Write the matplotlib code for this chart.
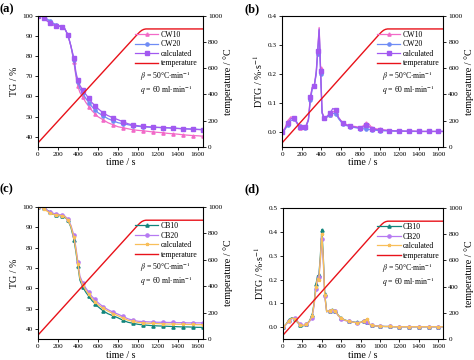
import matplotlib
matplotlib.use("Agg")
import matplotlib.pyplot as plt

plt.rcParams['font.family'] = ['Liberation Serif', 'DejaVu Serif']
plt.rcParams['mathtext.fontset'] = 'stix'

# temperature programme
temp_t = [0, 1000, 1020, 1040, 1060, 1080, 1650]
temp_T = [30, 863, 878, 890, 897, 900, 900]

# TG curves (a)
tg_t = [0, 30, 60, 90, 120, 150, 180, 210, 240, 270, 300, 330, 360, 380, 400,
        420, 450, 480, 510, 540, 570, 600, 650, 700, 750, 800, 850, 900, 950,
        1000, 1050, 1100, 1150, 1200, 1250, 1300, 1350, 1400, 1450, 1500, 1550,
        1600, 1650]
cw10_tg = [100, 100, 99.5, 98, 97, 96, 95.5, 95, 94.5, 93.5, 90.5, 85, 77, 70, 65,
           62, 59.5, 57, 55, 53, 51.5, 50, 48.5, 47, 46, 45, 44.5, 44, 43.5,
           43.2, 43, 42.7, 42.4, 42.2, 42, 41.7, 41.5, 41.3, 41, 40.8, 40.6,
           40.5, 40.3]
cw20_tg = [100, 100, 99.5, 98.5, 97.5, 96.5, 95.5, 95, 94.5, 93.5, 90.5, 85, 78, 71, 67,
           64, 61.5, 59, 57, 55, 53.5, 52, 50.5, 49, 48, 47, 46.5, 46, 45.5,
           45.2, 45, 44.8, 44.7, 44.6, 44.5, 44.4, 44.3, 44.2, 44, 43.9, 43.8,
           43.7, 43.6]
cwcal_tg = [100, 100, 99, 97.5, 96.5, 95.5, 95, 95, 94.5, 93.5, 90.5, 85, 79, 72, 68,
            65.5, 63, 61, 59, 57, 55.5, 54, 52, 50.5, 49.5, 48.5, 47.5, 46.5, 45.8,
            45.5, 45.2, 45, 44.8, 44.7, 44.6, 44.5, 44.3, 44.1, 44, 43.9, 43.8,
            43.6, 43.5]

# DTG curves (b)
dtg_t = [0, 30, 60, 90, 120, 150, 180, 210, 240, 270, 290, 310, 330, 350, 365,
         380, 395, 410, 430, 460, 490, 520, 550, 580, 620, 660, 700, 750, 800,
         830, 860, 890, 920, 960, 1000, 1050, 1100, 1150, 1200, 1250, 1300,
         1350, 1400, 1450, 1500, 1550, 1600, 1650]
cw10_dtg = [0.0, 0.015, 0.04, 0.053, 0.05, 0.032, 0.016, 0.01, 0.018, 0.045, 0.12,
            0.155, 0.16, 0.2, 0.28, 0.36, 0.22, 0.07, 0.05, 0.053, 0.06, 0.072,
            0.068, 0.05, 0.033, 0.027, 0.022, 0.02, 0.016, 0.022, 0.032, 0.028,
            0.016, 0.012, 0.01, 0.008, 0.006, 0.005, 0.005, 0.004, 0.004, 0.004,
            0.003, 0.003, 0.003, 0.003, 0.003, 0.003]
cw20_dtg = [0.0, 0.01, 0.025, 0.04, 0.046, 0.036, 0.02, 0.012, 0.015, 0.04, 0.11,
            0.15, 0.16, 0.2, 0.27, 0.35, 0.2, 0.065, 0.05, 0.052, 0.058, 0.065,
            0.064, 0.046, 0.03, 0.023, 0.019, 0.016, 0.013, 0.012, 0.012, 0.01,
            0.008, 0.007, 0.006, 0.005, 0.005, 0.004, 0.004, 0.004, 0.003, 0.003,
            0.003, 0.003, 0.003, 0.003, 0.003, 0.003]
cwcal_dtg = [0.0, 0.012, 0.032, 0.047, 0.049, 0.034, 0.018, 0.011, 0.017, 0.043, 0.12,
             0.155, 0.16, 0.21, 0.28, 0.355, 0.21, 0.068, 0.05, 0.055, 0.065, 0.082,
             0.076, 0.05, 0.032, 0.025, 0.021, 0.018, 0.015, 0.018, 0.024, 0.02,
             0.013, 0.01, 0.009, 0.007, 0.006, 0.005, 0.005, 0.004, 0.004, 0.004,
             0.003, 0.003, 0.003, 0.003, 0.003, 0.003]

# TG curves (c)
cb10_tg = [100, 100, 99.5, 98.5, 97.5, 96.5, 96, 95.8, 95.5, 95, 93.5, 90, 84, 78, 71,
           64, 60.5, 58, 56, 54, 52.5, 51, 49, 47.5, 46.5, 45.5, 44.3, 43.3, 42.8,
           42.3, 42, 41.8, 41.6, 41.5, 41.4, 41.3, 41.2, 41.1, 41, 41, 40.9,
           40.8, 40.8]
cb20_tg = [100, 100, 99.5, 98.5, 97.5, 97, 96.5, 96.3, 96, 95.5, 94, 91, 86, 80, 73,
           66, 62.5, 60, 58, 56, 54.5, 53, 51, 49.5, 48.3, 47.3, 46.2, 45, 44.3,
           43.8, 43.6, 43.5, 43.4, 43.3, 43.3, 43.2, 43.2, 43.1, 43.1, 43, 43,
           43, 43]
cbcal_tg = [100, 100, 99, 98, 97, 96.5, 96, 96, 95.7, 95.2, 93.5, 90.5, 85, 79, 72,
            65, 61.5, 59, 57, 55, 53.5, 52, 50.2, 48.8, 47.6, 46.5, 45.4, 44.3, 43.7,
            43.2, 43, 42.8, 42.7, 42.6, 42.5, 42.4, 42.4, 42.3, 42.3, 42.2, 42.2,
            42.1, 42.1]

# DTG curves (d)
dtg2_t = [0, 30, 60, 90, 120, 150, 180, 210, 240, 270, 300, 320, 340, 355, 370,
          385, 400, 415, 430, 450, 480, 510, 540, 570, 600, 640, 680, 720, 760,
          800, 830, 850, 870, 890, 920, 960, 1000, 1050, 1100, 1150, 1200, 1250,
          1300, 1350, 1400, 1450, 1500, 1550, 1600, 1650]
cb10_dtg = [0.0, 0.012, 0.03, 0.04, 0.035, 0.02, 0.008, 0.006, 0.012, 0.025, 0.05,
            0.1, 0.18, 0.215, 0.22, 0.3, 0.41, 0.3, 0.14, 0.065, 0.07, 0.076,
            0.068, 0.05, 0.038, 0.03, 0.025, 0.022, 0.02, 0.02, 0.028, 0.032,
            0.02, 0.012, 0.008, 0.005, 0.004, 0.003, 0.003, 0.002, 0.002, 0.002,
            0.002, 0.002, 0.002, 0.002, 0.002, 0.002, 0.002, 0.002]
cb20_dtg = [0.0, 0.01, 0.025, 0.035, 0.038, 0.025, 0.012, 0.008, 0.012, 0.022, 0.04,
            0.09, 0.16, 0.2, 0.21, 0.28, 0.37, 0.28, 0.13, 0.065, 0.068, 0.074,
            0.066, 0.048, 0.036, 0.028, 0.024, 0.021, 0.019, 0.02, 0.024, 0.026,
            0.02, 0.012, 0.008, 0.005, 0.004, 0.003, 0.003, 0.002, 0.002, 0.002,
            0.002, 0.002, 0.002, 0.002, 0.002, 0.002, 0.002, 0.002]
cbcal_dtg = [0.0, 0.011, 0.028, 0.038, 0.036, 0.022, 0.01, 0.007, 0.012, 0.024, 0.045,
             0.095, 0.17, 0.205, 0.2, 0.29, 0.39, 0.29, 0.135, 0.065, 0.07, 0.075,
             0.067, 0.049, 0.037, 0.029, 0.025, 0.021, 0.019, 0.02, 0.026, 0.03,
             0.035, 0.014, 0.008, 0.005, 0.004, 0.003, 0.003, 0.002, 0.002, 0.002,
             0.002, 0.002, 0.002, 0.002, 0.002, 0.002, 0.002, 0.002]

RED = '#e8121a'
FS = 5.2     # tick labels
LFS = 5.6    # legend
AFS = 7.2    # axis labels

fig = plt.figure(figsize=(4.74, 3.6), dpi=100)

panels = [
    ('(a)', [0.080, 0.592, 0.348, 0.364], tg_t,
     [(cw10_tg, 'CW10', '#f26ac8', '^'), (cw20_tg, 'CW20', '#6f8cf5', 'o'),
      (cwcal_tg, 'calculated', '#a259f0', 's')],
     (35, 100), [40, 50, 60, 70, 80, 90, 100], 'TG / %'),
    ('(b)', [0.595, 0.592, 0.340, 0.364], dtg_t,
     [(cw10_dtg, 'CW10', '#f26ac8', '^'), (cw20_dtg, 'CW20', '#6f8cf5', 'o'),
      (cwcal_dtg, 'calculated', '#a259f0', 's')],
     (-0.05, 0.4), [0.0, 0.1, 0.2, 0.3, 0.4], r'DTG / %$\cdot$s$^{-1}$'),
    ('(c)', [0.080, 0.058, 0.348, 0.367], tg_t,
     [(cb10_tg, 'CB10', '#11857c', '^'), (cb20_tg, 'CB20', '#b67af2', 'o'),
      (cbcal_tg, 'calculated', '#f8bf5a', '*')],
     (35, 100), [40, 50, 60, 70, 80, 90, 100], 'TG / %'),
    ('(d)', [0.597, 0.058, 0.338, 0.364], dtg2_t,
     [(cb10_dtg, 'CB10', '#11857c', '^'), (cb20_dtg, 'CB20', '#b67af2', 'o'),
      (cbcal_dtg, 'calculated', '#f8bf5a', '*')],
     (-0.05, 0.5), [0.0, 0.1, 0.2, 0.3, 0.4, 0.5], r'DTG / %$\cdot$s$^{-1}$'),
]

for tag, pos, t, series, ylim, yticks, ylabel in panels:
    ax = fig.add_axes(pos)
    handles = []
    for y, lab, col, mk in series:
        h, = ax.plot(t, y, color=col, lw=0.9, marker=mk, ms=2.3, markevery=2,
                     label=lab)
        handles.append(h)
    ax.set_xlim(0, 1650)
    ax.set_ylim(*ylim)
    ax.set_xticks(range(0, 1601, 200))
    ax.set_yticks(yticks)
    if ylim[0] < 0:
        ax.set_yticklabels(['%.1f' % v for v in yticks])
    ax.set_xlabel('time / s', fontsize=AFS, labelpad=1)
    ax.set_ylabel(ylabel, fontsize=AFS, labelpad=2)
    ax.tick_params(labelsize=FS, length=2.2, width=0.6, pad=1.5)
    for s in ax.spines.values():
        s.set_linewidth(0.7)

    ax2 = ax.twinx()
    ht, = ax2.plot(temp_t, temp_T, color=RED, lw=1.0, label='temperature')
    handles.append(ht)
    ax2.set_ylim(0, 1000)
    ax2.set_yticks(range(0, 1001, 200))
    ax2.set_ylabel('temperature / °C', fontsize=AFS, labelpad=1)
    ax2.tick_params(labelsize=FS, length=2.2, width=0.6, pad=1.5)

    ax2.legend(handles=handles, loc='upper left', bbox_to_anchor=(0.57, 0.91),
               frameon=False, fontsize=LFS, handlelength=3.0, handletextpad=0.3,
               labelspacing=0.2, borderaxespad=0)
    ax2.text(0.62, 0.54, r'$\beta$ = 50°C$\cdot$min$^{-1}$', transform=ax2.transAxes,
             fontsize=LFS, va='center')
    ax2.text(0.62, 0.435, r'$q$ = 60 ml$\cdot$min$^{-1}$', transform=ax2.transAxes,
             fontsize=LFS, va='center')

    fx = 0.0 if tag in ('(a)', '(c)') else 0.515
    fy = 0.99 if tag in ('(a)', '(b)') else 0.49
    fig.text(fx, fy, tag, fontsize=9, fontweight='bold', va='top')

fig.savefig('out.png', dpi=100)
